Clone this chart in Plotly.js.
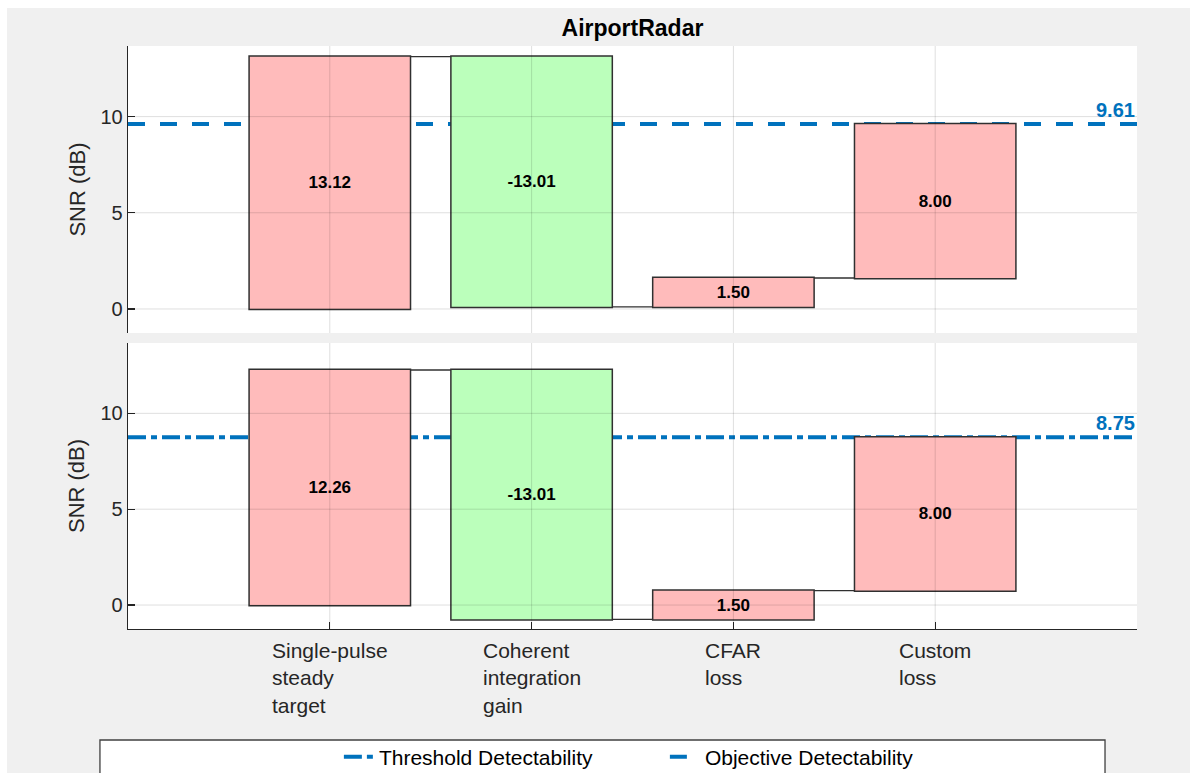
<!DOCTYPE html>
<html><head><meta charset="utf-8">
<script src="https://cdn.plot.ly/plotly-3.0.1.min.js"></script>
<style>
html,body{margin:0;padding:0;background:#ffffff;}
#chart{position:absolute;left:7px;top:8px;width:1183px;height:765px;}
</style></head><body><div id="chart"></div>
<script>
// ---- data ----
const categories = ['Single-pulse<br>steady<br>target', 'Coherent<br>integration<br>gain', 'CFAR<br>loss', 'Custom<br>loss'];
const categoryPos = [1, 2, 3, 4];
const topValues = [13.12, -13.01, 1.50, 8.00];
const bottomValues = [12.26, -13.01, 1.50, 8.00];
const objectiveDetectability = 9.61;
const thresholdDetectability = 8.75;
const yTicks = [0, 5, 10];
const chartTitle = 'AirportRadar';
const yLabel = 'SNR (dB)';
const legendNames = ['Threshold Detectability', 'Objective Detectability'];

// ---- styles ----
const FONT = 'Liberation Sans, Arial, Helvetica, sans-serif';
const TXT = '#262626';
const BLUE = '#0072BD';
const PINK = '#FFBBBB';
const GREEN = '#BBFFBB';
const EDGE = '#303030';
const GRID = 'rgba(0,0,0,0.13)';
const DASH_OBJ = '17px,15px';
const DASH_THR = '18px,5px,6px,5px';

function wf(values, xa, ya) {
  return {
    type: 'waterfall', x: categoryPos, y: values, measure: values.map(() => 'relative'),
    xaxis: xa, yaxis: ya, showlegend: false,
    text: values.map(v => v.toFixed(2)), textinfo: 'text', texttemplate: '%{text}',
    textposition: 'inside', insidetextanchor: 'middle', constraintext: 'none',
    textfont: {family: FONT, size: 17, color: '#000', weight: 'bold'},
    increasing: {marker: {color: PINK, line: {color: EDGE, width: 1.5}}},
    decreasing: {marker: {color: GREEN, line: {color: EDGE, width: 1.5}}},
    connector: {mode: 'between', line: {color: EDGE, width: 1.3}},
    hoverinfo: 'skip'
  };
}

const traces = [
  wf(topValues, 'x', 'y'),
  wf(bottomValues, 'x2', 'y2'),
  {type: 'scatter', x: [null], y: [null], mode: 'lines', name: legendNames[0], xaxis: 'x2', yaxis: 'y2',
   line: {color: BLUE, width: 4, dash: DASH_THR}},
  {type: 'scatter', x: [null], y: [null], mode: 'lines', name: legendNames[1], xaxis: 'x2', yaxis: 'y2',
   line: {color: BLUE, width: 4, dash: DASH_OBJ}}
];

const yRange = [-1.25, 13.67];
function yAxis(domain, anchor) {
  return {
    domain: domain, anchor: anchor, range: yRange, tickvals: yTicks, ticktext: yTicks.map(String),
    showgrid: false, zeroline: false, showline: true, linecolor: TXT, linewidth: 1.3,
    ticks: 'inside', ticklen: 7, tickcolor: TXT, tickwidth: 1.3,
    tickfont: {family: FONT, size: 20, color: TXT},
    fixedrange: true
  };
}

const shapes = [];
// threshold lines (behind bars)
[[objectiveDetectability, 'x', 'y', DASH_OBJ], [thresholdDetectability, 'x2', 'y2', DASH_THR]].forEach(([v, xa, ya, d]) => {
  shapes.push({type: 'line', layer: 'below', xref: xa, yref: ya, x0: 0, x1: 5, y0: v, y1: v,
    line: {color: BLUE, width: 4, dash: d}});
});
// grid drawn over the bars
[['x', 'y'], ['x2', 'y2']].forEach(([xa, ya]) => {
  categoryPos.forEach(c => shapes.push({type: 'line', layer: 'above', xref: xa, yref: ya,
    x0: c, x1: c, y0: yRange[0], y1: yRange[1], line: {color: GRID, width: 1}}));
  yTicks.forEach(t => shapes.push({type: 'line', layer: 'above', xref: xa, yref: ya,
    x0: 0, x1: 5, y0: t, y1: t, line: {color: GRID, width: 1}}));
});
// legend box
shapes.push({type: 'rect', layer: 'below', xref: 'paper', yref: 'paper', x0: -0.0278, x1: 0.9683, y0: -0.1904, y1: -0.30,
  fillcolor: '#ffffff', line: {color: '#404040', width: 1.3}});

const annotations = [];
// value labels
[[objectiveDetectability, 'x', 'y'], [thresholdDetectability, 'x2', 'y2']].forEach(([v, xa, ya]) => {
  annotations.push({xref: xa, x: 5, xanchor: 'right', yref: ya, y: v, yanchor: 'bottom',
    yshift: 1, showarrow: false, text: v.toFixed(2), font: {family: FONT, size: 20, color: BLUE, weight: 'bold'}});
});
// y axis titles
['y', 'y2'].forEach(ya => annotations.push({xref: 'paper', x: -0.0505, xanchor: 'center', yref: ya + ' domain', y: 0.5,
  yanchor: 'middle', textangle: -90, showarrow: false, text: yLabel, font: {family: FONT, size: 22, color: TXT}}));
// category labels (left aligned lines)
categories.forEach((c, i) => annotations.push({xref: 'x2', x: categoryPos[i], xanchor: 'center', yref: 'y2', y: yRange[0],
  yanchor: 'top', yshift: -8, align: 'left', showarrow: false, text: c, font: {family: FONT, size: 21, color: TXT}}));

const xCommon = {range: [0, 5], tickvals: categoryPos, showgrid: false, zeroline: false, fixedrange: true};

const layout = {
  width: 1183, height: 765,
  paper_bgcolor: '#f0f0f0', plot_bgcolor: '#ffffff',
  margin: {l: 121, r: 53, t: 38, b: 144, autoexpand: false},
  font: {family: FONT, color: TXT},
  title: {text: chartTitle, x: 0.5, xref: 'paper', y: 0.974, yanchor: 'middle', yref: 'container',
    font: {family: FONT, size: 23, color: '#000', weight: 'bold'}},
  xaxis: Object.assign({}, xCommon, {anchor: 'y', showline: false, ticks: '', showticklabels: false}),
  xaxis2: Object.assign({}, xCommon, {anchor: 'y2', showline: true, linecolor: TXT, linewidth: 1.3,
    ticks: 'inside', ticklen: 7, tickcolor: TXT, tickwidth: 1.3, showticklabels: false}),
  yaxis: yAxis([0.5077, 1], 'x'),
  yaxis2: yAxis([0, 0.4906], 'x2'),
  waterfallgap: 0.2,
  showlegend: true,
  legend: {orientation: 'h', x: 0.209, xanchor: 'left', y: -0.2196, yanchor: 'middle', entrywidth: 281,
    bgcolor: 'rgba(0,0,0,0)', font: {family: FONT, size: 21, color: '#000'}},
  shapes: shapes, annotations: annotations
};

Plotly.newPlot('chart', traces, layout, {staticPlot: true, displayModeBar: false});
</script></body></html>
